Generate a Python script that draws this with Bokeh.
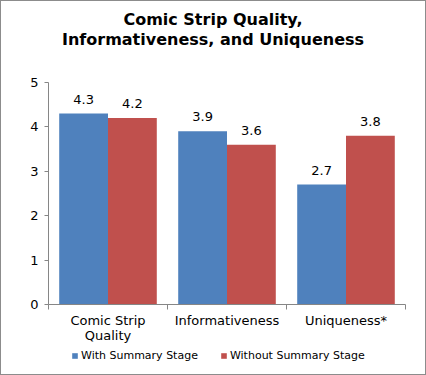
from bokeh.plotting import figure
from bokeh.models import ColumnDataSource, FixedTicker, Legend, LegendItem, LabelSet, Div
from bokeh.layouts import column
from bokeh.core.properties import value
from bokeh.transform import dodge
from bokeh.embed import file_html
from bokeh.resources import INLINE

title_lines = ["Comic Strip Quality,", "Informativeness, and Uniqueness"]
categories = ["Comic Strip\nQuality", "Informativeness", "Uniqueness*"]
with_summary = [4.3, 3.9, 2.7]
without_summary = [4.2, 3.6, 3.8]
series_names = ["With Summary Stage", "Without Summary Stage"]
y_ticks = [0, 1, 2, 3, 4, 5]

FONT = "DejaVu Sans"
BLUE = "#4F81BD"
RED = "#C0504D"
GREY = "#868686"

xc = [i + 0.5 for i in range(len(categories))]
src = ColumnDataSource(dict(
    x=xc,
    w=with_summary,
    wo=without_summary,
    wl=[f"{v:.1f}" for v in with_summary],
    wol=[f"{v:.1f}" for v in without_summary],
))

title = Div(text="<br>".join(title_lines), width=424, height=59,
            styles={"text-align": "center", "font-family": FONT, "font-weight": "bold",
                    "font-size": "16px", "line-height": "20px", "color": "black",
                    "padding-top": "9px", "width": "424px", "box-sizing": "border-box",
                    "margin": "0"})

# main chart
p = figure(width=424, height=288, x_range=(0, 3), y_range=(0, 5),
           output_backend="svg", toolbar_location=None,
           min_border_left=47, min_border_right=20, min_border_top=22, min_border_bottom=44)
p.outline_line_color = None
p.xgrid.visible = False
p.ygrid.visible = False

r1 = p.vbar(x=dodge("x", -0.205, range=p.x_range), top="w", width=0.41, source=src,
            fill_color=BLUE, line_color=None)
r2 = p.vbar(x=dodge("x", 0.205, range=p.x_range), top="wo", width=0.41, source=src,
            fill_color=RED, line_color=None)

for col, lab, off in (("w", "wl", -0.205), ("wo", "wol", 0.205)):
    ls = LabelSet(x=dodge("x", off, range=p.x_range), y=col, text=lab, source=src,
                  text_align="center", text_baseline="bottom", y_offset=10,
                  text_font=value(FONT), text_font_size=value("13px"), text_color="black")
    p.add_layout(ls)

# x axis: labels at centers, tick marks at category boundaries
p.xaxis.ticker = FixedTicker(ticks=xc, minor_ticks=list(range(len(categories) + 1)))
p.xaxis.major_label_overrides = {c: categories[i] for i, c in enumerate(xc)}
p.xaxis.major_tick_line_color = None
p.xaxis.major_tick_out = 0
p.xaxis.major_tick_in = 0
p.xaxis.minor_tick_line_color = GREY
p.xaxis.minor_tick_out = 5
p.xaxis.minor_tick_in = 0
p.xaxis.axis_line_color = GREY
p.xaxis.major_label_text_font = FONT
p.xaxis.major_label_text_font_size = "13px"
p.xaxis.major_label_text_color = "black"
p.xaxis.major_label_text_line_height = 1.0
p.xaxis.major_label_standoff = 3

p.yaxis.ticker = FixedTicker(ticks=y_ticks)
p.yaxis.minor_tick_line_color = None
p.yaxis.major_tick_line_color = GREY
p.yaxis.major_tick_out = 4
p.yaxis.major_tick_in = 0
p.yaxis.axis_line_color = GREY
p.yaxis.major_label_text_font = FONT
p.yaxis.major_label_text_font_size = "13px"
p.yaxis.major_label_text_color = "black"
p.yaxis.major_label_standoff = 6

# legend strip (bars drawn outside its visible range; only the legend shows)
lg = figure(width=424, height=26, x_range=(0, 3), y_range=(10, 11),
            output_backend="svg", toolbar_location=None,
            x_axis_location=None, y_axis_location=None, min_border=0)
lg.outline_line_color = None
lg.xgrid.visible = False
lg.ygrid.visible = False
l1 = lg.vbar(x=dodge("x", -0.205, range=lg.x_range), top="w", width=0.41, source=src,
             fill_color=BLUE, line_color=None)
l2 = lg.vbar(x=dodge("x", 0.205, range=lg.x_range), top="wo", width=0.41, source=src,
             fill_color=RED, line_color=None)
legend = Legend(items=[LegendItem(label=series_names[0], renderers=[l1]),
                       LegendItem(label=series_names[1], renderers=[l2])],
                orientation="horizontal", location=(23, 12),
                label_text_font=FONT, label_text_font_size="11px", label_text_color="black",
                label_height=12, glyph_width=7, glyph_height=7, label_standoff=3, spacing=22,
                padding=0, margin=0, border_line_color=None,
                background_fill_alpha=0)
lg.add_layout(legend, "center")

layout = column(title, p, lg, spacing=0,
                styles={"border": "1px solid #8c8c8c", "background-color": "white"})
open("out.html", "w").write(file_html(layout, INLINE))
